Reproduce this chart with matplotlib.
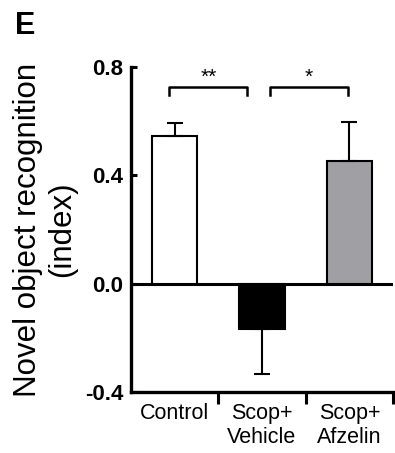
import matplotlib
matplotlib.use('Agg')
import matplotlib.pyplot as plt

plt.rcParams['font.family'] = ['Liberation Sans', 'DejaVu Sans']

# data
groups = ['Control', 'Scop+\nVehicle', 'Scop+\nAfzelin']
means = [0.545, -0.168, 0.453]
err_lo = [0.0, 0.166, 0.0]
err_hi = [0.047, 0.0, 0.145]
colors = ['#ffffff', '#000000', '#a09fa4']
yticks = [-0.4, 0.0, 0.4, 0.8]
sig = [('**', -0.06, 0.83), ('*', 1.09, 1.98)]

fig = plt.figure(figsize=(3.95, 4.53), dpi=100)
ax = fig.add_axes([131 / 395, 61 / 453, 262 / 395, 325 / 453])

x = list(range(len(groups)))
ax.axhline(0, color='black', lw=2.2, zorder=1)
ax.bar(x, means, width=0.52, color=colors, edgecolor='black', linewidth=1.5, zorder=2)
ax.errorbar(x, means, yerr=[err_lo, err_hi], fmt='none', ecolor='black',
            elinewidth=1.5, capsize=5.5, capthick=1.5, zorder=3)

# significance brackets
for label, x0, x1 in sig:
    ax.plot([x0, x0, x1, x1], [0.696, 0.726, 0.726, 0.696], color='black', lw=1.8,
            clip_on=False, zorder=4)
    ax.text((x0 + x1) / 2, 0.728, label, ha='center', va='bottom', fontsize=15)

ax.set_xlim(-0.5, 2.5)
ax.set_ylim(-0.4, 0.8)
ax.set_yticks(yticks)
ax.set_yticklabels([f'{v:.1f}' for v in yticks], fontweight='bold', fontsize=16)
ax.set_xticks(x)
ax.set_xticklabels(groups, fontsize=15.5, linespacing=1.15)
ax.set_xticks([0.5, 1.5, 2.5], minor=True)

ax.tick_params(axis='y', direction='in', length=4, width=2.2, pad=5.5)
ax.tick_params(axis='x', which='major', length=0, pad=8)
ax.tick_params(axis='x', which='minor', direction='out', length=8.5, width=2.2)

for s in ['top', 'right']:
    ax.spines[s].set_visible(False)
for s in ['left', 'bottom']:
    ax.spines[s].set_linewidth(2.4)

ax.set_ylabel('Novel object recognition\n(index)', fontsize=22.5, linespacing=1.2)
ax.yaxis.set_label_coords(-0.205, 0.5)

fig.text(15 / 395, 1 - 34 / 453, 'E', fontsize=22, fontweight='bold', ha='left', va='baseline')

fig.savefig('out.png', dpi=100)
